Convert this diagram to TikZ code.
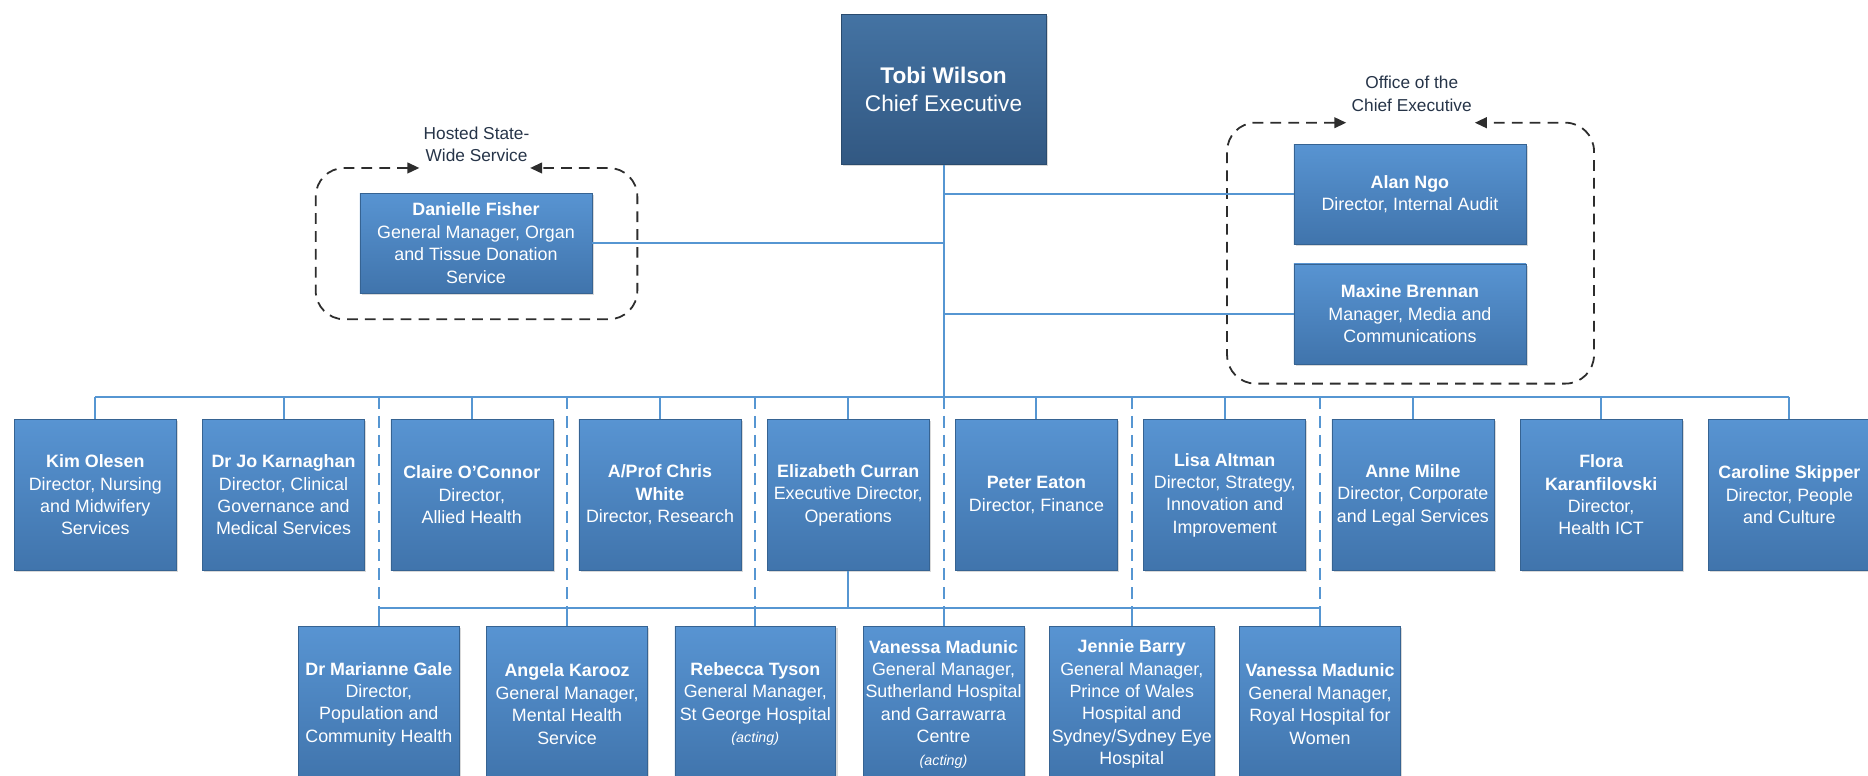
\documentclass[tikz,border=0pt]{standalone}
\usepackage{fontspec}
\setmainfont{Liberation Sans}
\usetikzlibrary{arrows.meta,shadows}

\definecolor{boxtop}{RGB}{88,148,210}
\definecolor{boxbot}{RGB}{64,116,172}
\definecolor{ceotop}{RGB}{68,115,163}
\definecolor{ceobot}{RGB}{50,88,130}
\definecolor{linkblue}{RGB}{86,150,210}
\definecolor{labeltext}{RGB}{38,52,72}
\definecolor{groupline}{RGB}{45,45,45}

\tikzset{
  card/.style={rectangle, top color=boxtop, bottom color=boxbot,
    draw=boxbot!85!black, line width=0.4pt, text=white, align=center,
    inner sep=2pt, font=\fontsize{15}{18.8}\selectfont,
    drop shadow={opacity=0.3, shadow xshift=1.5pt, shadow yshift=-1.5pt}},
  ceobox/.style={card, top color=ceotop, bottom color=ceobot, draw=ceobot!85!black,
    minimum width=172pt, minimum height=126pt, font=\fontsize{19}{23}\selectfont},
  dirbox/.style={card, minimum width=136pt, minimum height=127pt},
  gmbox/.style={card, minimum width=135pt, minimum height=130pt},
  widebox/.style={card, minimum width=195pt, minimum height=84pt},
  link/.style={draw=linkblue, line width=1.7pt},
  dottedlink/.style={draw=linkblue, line width=1.7pt, dash pattern=on 10pt off 6pt},
  groupframe/.style={draw=groupline, line width=1.5pt, dash pattern=on 9pt off 6pt,
    rounded corners=24pt,
    {Triangle[length=10pt,width=9pt]}-{Triangle[length=10pt,width=9pt]}},
  grouplabel/.style={text=labeltext, align=center, font=\fontsize{14.5}{19}\selectfont},
}
\newcommand{\actingnote}{{\fontsize{12}{18.8}\selectfont\itshape (acting)}}

\begin{document}
\begin{tikzpicture}[x=1pt, y=-1pt]
  \useasboundingbox (0,0) rectangle (1568,651);
  \clip (0,0) rectangle (1568,651);

  % Chief Executive
  \node[ceobox] (ceo) at (792,75) {\textbf{Tobi Wilson}\\Chief Executive};

  % Hosted state-wide service
  \node[widebox] (fisher) at (399.5,204) {\textbf{Danielle Fisher}\\General Manager, Organ\\and Tissue Donation\\Service};
  \node[grouplabel] (hostedlbl) at (400,121) {Hosted State-\\Wide Service};
  \draw[groupframe] (352,141) -- (265,141) -- (265,268) -- (535,268) -- (535,141) -- (445,141);

  % Office of the Chief Executive
  \node[widebox] (ngo) at (1183.5,163) {\textbf{Alan Ngo}\\Director, Internal Audit};
  \node[widebox] (brennan) at (1183.5,263.5) {\textbf{Maxine Brennan}\\Manager, Media and\\Communications};
  \node[grouplabel] (officelbl) at (1185,79) {Office of the\\Chief Executive};
  \draw[groupframe] (1130,103) -- (1030,103) -- (1030,322) -- (1338,322) -- (1338,103) -- (1238,103);

  % Directors
  \node[dirbox] (olesen)   at (80,415.5)   {\textbf{Kim Olesen}\\Director, Nursing\\and Midwifery\\Services};
  \node[dirbox] (karnaghan) at (238,415.5) {\textbf{Dr Jo Karnaghan}\\Director, Clinical\\Governance and\\Medical Services};
  \node[dirbox] (oconnor)  at (396,415.5)  {\textbf{Claire O’Connor}\\Director,\\Allied Health};
  \node[dirbox] (white)    at (554,415.5)  {\textbf{A/Prof Chris}\\\textbf{White}\\Director, Research};
  \node[dirbox] (curran)   at (712,415.5)  {\textbf{Elizabeth Curran}\\Executive Director,\\Operations};
  \node[dirbox] (eaton)    at (870,415.5)  {\textbf{Peter Eaton}\\Director, Finance};
  \node[dirbox] (altman)   at (1028,415.5) {\textbf{Lisa Altman}\\Director, Strategy,\\Innovation and\\Improvement};
  \node[dirbox] (milne)    at (1186,415.5) {\textbf{Anne Milne}\\Director, Corporate\\and Legal Services};
  \node[dirbox] (flora)    at (1344,415.5) {\textbf{Flora}\\\textbf{Karanfilovski}\\Director,\\Health ICT};
  \node[dirbox] (skipper)  at (1502,415.5) {\textbf{Caroline Skipper}\\Director, People\\and Culture};

  % Operations reports
  \node[gmbox] (gale)     at (318,591)  {\textbf{Dr Marianne Gale}\\Director,\\Population and\\Community Health};
  \node[gmbox] (karooz)   at (476,591)  {\textbf{Angela Karooz}\\General Manager,\\Mental Health\\Service};
  \node[gmbox] (tyson)    at (634,591)  {\textbf{Rebecca Tyson}\\General Manager,\\St George Hospital\\\actingnote};
  \node[gmbox] (madunicS) at (792,591)  {\textbf{Vanessa Madunic}\\General Manager,\\Sutherland Hospital\\and Garrawarra\\Centre\\\actingnote};
  \node[gmbox] (barry)    at (950,591)  {\textbf{Jennie Barry}\\General Manager,\\Prince of Wales\\Hospital and\\Sydney/Sydney Eye\\Hospital};
  \node[gmbox] (madunicW) at (1108,591) {\textbf{Vanessa Madunic}\\General Manager,\\Royal Hospital for\\Women};

  % Bus levels
  \coordinate (bus) at (792,333);
  \coordinate (opsbus) at (712,510);

  % Trunk and side reports
  \draw[link] (ceo.south) -- (bus);
  \draw[link] (fisher.east) -- (fisher.east -| ceo.south);
  \draw[link] (ngo.west) -- (ngo.west -| ceo.south);
  \draw[link] (brennan.west) -- (brennan.west -| ceo.south);

  % Director bus
  \draw[link] (olesen.north |- bus) -- (skipper.north |- bus);
  \foreach \n in {olesen,karnaghan,oconnor,white,curran,eaton,altman,milne,flora,skipper}
    \draw[link] (\n.north |- bus) -- (\n.north);

  % Dotted reporting lines from the director bus
  \foreach \n in {gale,karooz,tyson,madunicS,barry,madunicW}
    \draw[dottedlink] (\n.north |- bus) -- (\n.north |- opsbus);

  % Operations bus
  \draw[link] (curran.south) -- (opsbus);
  \draw[link] (gale.north |- opsbus) -- (madunicW.north |- opsbus);
  \foreach \n in {gale,karooz,tyson,madunicS,barry,madunicW}
    \draw[link] (\n.north |- opsbus) -- (\n.north);
\end{tikzpicture}
\end{document}
